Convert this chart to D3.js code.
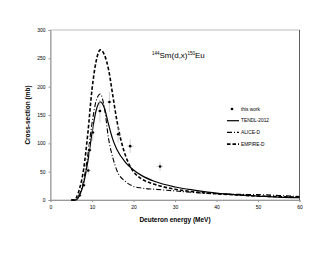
<!DOCTYPE html>
<html><head><meta charset="utf-8">
<script src="https://cdn.jsdelivr.net/npm/d3@7"></script>
<style>body{margin:0;background:#fff}svg{display:block}text{font-family:"Liberation Sans",Arial,sans-serif}</style>
</head><body><svg id="c" width="330" height="255"></svg>
<script>
const xTicks = [0,10,20,30,40,50,60];
const yTicks = [0,50,100,150,200,250,300];
const expE   = [7.0, 8.0, 9.1, 9.4, 10.2, 11.9, 14.2, 16.3, 19.2, 26.4];
const expS   = [8, 26, 52, 88, 119, 157, 173, 116, 95, 59];
const expdE  = [0.6, 0.6, 0.6, 0.6, 0.5, 0.5, 0.6, 0.7, 0.8, 0.8];
const expdS  = [2, 4, 7, 11, 15, 20, 18, 15, 12, 8];
const tendlE = [5,6,7,8,9,10,11,12,13,14,15,16,18,20,22,25,30,35,40,45,50,55,60];
const tendlS = [0,0,8,30,68,118,158,173,162,133,107,89,67,53,43,33,23,17,12,9,7,5,4];
const aliceE = [5,6,7,8,9,10,11,12,13,14,15,16,18,20,22,25,30,35,40,45,50,55,60];
const aliceS = [0,0,10,35,80,135,175,187,162,108,75,52,33,24,21,19,16,13,11,10,9.5,8,6];
const empE   = [5,5.7,7,8,9,10,11,12,13,14,15,16,17,18,19,20,22,25,30,35,40,45,50,55,60];
const empS   = [0,0,20,55,118,195,245,265,256,230,185,140,105,80,62,50,37,28,19,14,11,9,7,6,5];

const svg = d3.select("#c");
const x = d3.scaleLinear().domain([0,60]).range([50.5,299.5]);
const y = d3.scaleLinear().domain([0,300]).range([200,30]);
const gray = "#999";

// frame
svg.append("rect").attr("x",x(0)).attr("y",y(300)).attr("width",x(60)-x(0)).attr("height",y(0)-y(300))
  .attr("fill","none").attr("stroke","#aaa").attr("stroke-width",0.8);
svg.append("line").attr("x1",x(60)).attr("x2",x(60)).attr("y1",y(300)).attr("y2",y(0)).attr("stroke","#444").attr("stroke-width",0.8);

const ax = svg.append("g").attr("transform",`translate(0,${y(0)})`)
  .call(d3.axisBottom(x).tickValues(xTicks).tickSize(2).tickPadding(3));
const ay = svg.append("g").attr("transform",`translate(${x(0)},0)`)
  .call(d3.axisLeft(y).tickValues(yTicks).tickSize(2).tickPadding(3));
[ax,ay].forEach(g=>{
  g.select(".domain").attr("stroke",gray).attr("stroke-width",1);
  g.selectAll(".tick line").attr("stroke",gray);
  g.selectAll(".tick text").attr("font-size",5).attr("fill","#000").attr("font-family","Liberation Sans, Arial");
});

svg.append("text").attr("x",175).attr("y",222).attr("text-anchor","middle")
  .attr("font-size",6.5).attr("font-weight","bold").text("Deuteron energy (MeV)");
svg.append("text").attr("transform","translate(30,115) rotate(-90)").attr("text-anchor","middle")
  .attr("font-size",6.5).attr("font-weight","bold").text("Cross-section (mb)");

// title
const t = svg.append("text").attr("x",152).attr("y",58).attr("font-size",8);
t.append("tspan").attr("font-size",4.5).attr("dy",-3).text("144");
t.append("tspan").attr("dy",3).text("Sm(d,x)");
t.append("tspan").attr("font-size",4.5).attr("dy",-3).text("150");
t.append("tspan").attr("dy",3).text("Eu");

const line = d3.line().x(d=>x(d[0])).y(d=>y(d[1])).curve(d3.curveMonotoneX);
const series = [
  {E:tendlE,S:tendlS,dash:null,w:1.2},
  {E:aliceE,S:aliceS,dash:"5,2,1,2",w:1.1},
  {E:empE,S:empS,dash:"3.5,2",w:1.6}
];
series.forEach(s=>{
  svg.append("path").datum(s.E.map((e,i)=>[e,s.S[i]])).attr("d",line)
    .attr("fill","none").attr("stroke","#000").attr("stroke-width",s.w)
    .attr("stroke-dasharray",s.dash);
});

// experimental points
const pts = svg.append("g");
expE.forEach((e,i)=>{
  pts.append("line").attr("x1",x(e-expdE[i])).attr("x2",x(e+expdE[i])).attr("y1",y(expS[i])).attr("y2",y(expS[i]))
    .attr("stroke","#bbb").attr("stroke-width",0.7);
  pts.append("line").attr("x1",x(e)).attr("x2",x(e)).attr("y1",y(expS[i]-expdS[i])).attr("y2",y(expS[i]+expdS[i]))
    .attr("stroke","#bbb").attr("stroke-width",0.7);
  pts.append("circle").attr("cx",x(e)).attr("cy",y(expS[i])).attr("r",1.3).attr("fill","#000");
});

// legend
const lg = svg.append("g");
const items = [
  {t:"this work",type:"pt"},
  {t:"TENDL-2012",dash:null,w:1.2},
  {t:"ALICE-D",dash:"5,2,1,2",w:1.1},
  {t:"EMPIRE-D",dash:"3.5,2",w:1.6}
];
items.forEach((it,i)=>{
  const yy = 109 + i*11.7;
  if(it.type==="pt"){
    lg.append("circle").attr("cx",232).attr("cy",yy).attr("r",1.3).attr("fill","#000");
  } else {
    lg.append("line").attr("x1",227).attr("x2",239).attr("y1",yy).attr("y2",yy)
      .attr("stroke","#000").attr("stroke-width",it.w).attr("stroke-dasharray",it.dash);
  }
  lg.append("text").attr("x",241).attr("y",yy+1.7).attr("font-size",4.8).text(it.t);
});
</script></body></html>
